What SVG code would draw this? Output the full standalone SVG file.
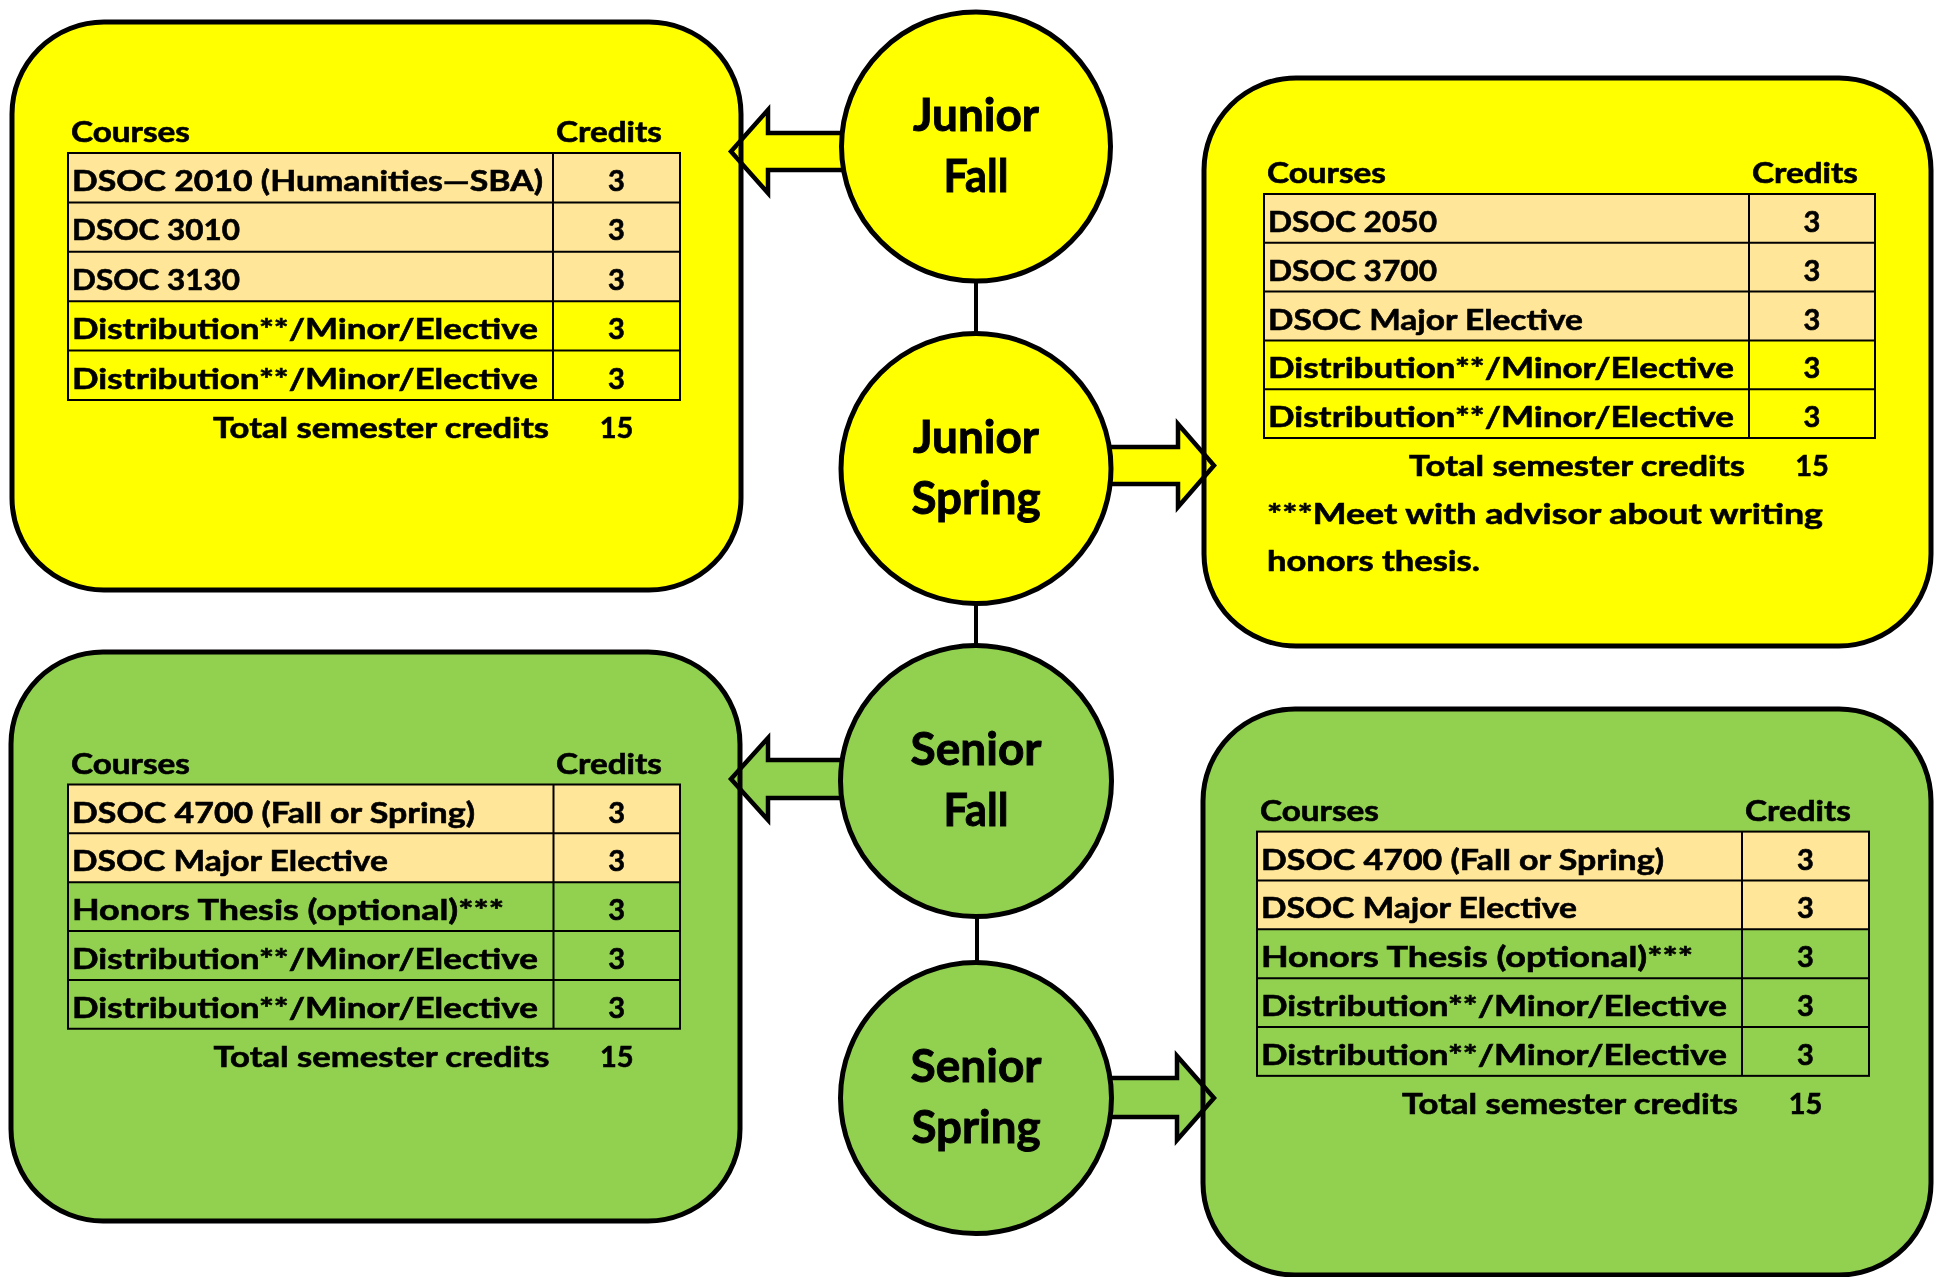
<svg xmlns="http://www.w3.org/2000/svg" width="1947" height="1277" viewBox="0 0 1947 1277">
<style>
text{font-family:Lato,"Open Sans","Liberation Sans",sans-serif;font-weight:700;fill:#000;stroke:#000;stroke-width:0.6px}
.t{font-size:29px}
.c{font-size:29px;text-anchor:middle}
.lab{font-size:45px;text-anchor:middle;stroke-width:0.9px}
.box{stroke:#000;stroke-width:5}
.yel{fill:#FFFF00}
.grn{fill:#92D050}
.org{fill:#FFE699}
.grid{fill:none;stroke:#000;stroke-width:2}
.node{stroke:#000;stroke-width:5}
.link{stroke:#000;stroke-width:4;fill:none}
.arr{stroke:#000;stroke-width:4.5;stroke-linejoin:miter;mix-blend-mode:darken}
</style>

<g id="box-junior-fall">
<rect class="box yel" x="12" y="22" width="729" height="568" rx="92" ry="92"/>
<rect class="org" x="68" y="153" width="612" height="148.2"/>
<rect class="grid" x="68" y="153" width="612" height="247"/>
<path class="grid" d="M553 153V400M68 202.4H680M68 251.8H680M68 301.2H680M68 350.6H680"/>
<text class="t" x="71" y="142" textLength="119" lengthAdjust="spacingAndGlyphs">Courses</text>
<text class="t" x="556" y="142" textLength="106" lengthAdjust="spacingAndGlyphs">Credits</text>
<text class="t" x="72" y="191" textLength="471" lengthAdjust="spacingAndGlyphs">DSOC 2010 (Humanities—SBA)</text>
<text class="t" x="72" y="240.4" textLength="168" lengthAdjust="spacingAndGlyphs">DSOC 3010</text>
<text class="t" x="72" y="289.8" textLength="168" lengthAdjust="spacingAndGlyphs">DSOC 3130</text>
<text class="t" x="72" y="339.2" textLength="466" lengthAdjust="spacingAndGlyphs">Distribution**/Minor/Elective</text>
<text class="t" x="72" y="388.6" textLength="466" lengthAdjust="spacingAndGlyphs">Distribution**/Minor/Elective</text>
<text class="c" x="616.5" y="191">3</text>
<text class="c" x="616.5" y="240.4">3</text>
<text class="c" x="616.5" y="289.8">3</text>
<text class="c" x="616.5" y="339.2">3</text>
<text class="c" x="616.5" y="388.6">3</text>
<text class="t" x="213" y="438" textLength="336" lengthAdjust="spacingAndGlyphs">Total semester credits</text>
<text class="c" x="616.5" y="438">15</text>
</g>

<g id="box-junior-spring">
<rect class="box yel" x="1204" y="78" width="727" height="568" rx="92" ry="92"/>
<rect class="org" x="1264" y="194" width="611" height="146.4"/>
<rect class="grid" x="1264" y="194" width="611" height="244"/>
<path class="grid" d="M1749 194V438M1264 242.8H1875M1264 291.6H1875M1264 340.4H1875M1264 389.2H1875"/>
<text class="t" x="1267" y="183" textLength="119" lengthAdjust="spacingAndGlyphs">Courses</text>
<text class="t" x="1752" y="183" textLength="106" lengthAdjust="spacingAndGlyphs">Credits</text>
<text class="t" x="1268" y="232" textLength="169" lengthAdjust="spacingAndGlyphs">DSOC 2050</text>
<text class="t" x="1268" y="280.8" textLength="169" lengthAdjust="spacingAndGlyphs">DSOC 3700</text>
<text class="t" x="1268" y="329.6" textLength="315" lengthAdjust="spacingAndGlyphs">DSOC Major Elective</text>
<text class="t" x="1268" y="378.4" textLength="466" lengthAdjust="spacingAndGlyphs">Distribution**/Minor/Elective</text>
<text class="t" x="1268" y="427.2" textLength="466" lengthAdjust="spacingAndGlyphs">Distribution**/Minor/Elective</text>
<text class="c" x="1812" y="232">3</text>
<text class="c" x="1812" y="280.8">3</text>
<text class="c" x="1812" y="329.6">3</text>
<text class="c" x="1812" y="378.4">3</text>
<text class="c" x="1812" y="427.2">3</text>
<text class="t" x="1409" y="476" textLength="336" lengthAdjust="spacingAndGlyphs">Total semester credits</text>
<text class="c" x="1812" y="476">15</text>
<text class="t" x="1267" y="524" textLength="556" lengthAdjust="spacingAndGlyphs">***Meet with advisor about writing</text>
<text class="t" x="1267" y="571" textLength="213" lengthAdjust="spacingAndGlyphs">honors thesis.</text>
</g>

<g id="box-senior-fall">
<rect class="box grn" x="11" y="652" width="729" height="569" rx="92" ry="92"/>
<rect class="org" x="68" y="784.5" width="612" height="97.7"/>
<rect class="grid" x="68" y="784.5" width="612" height="244.25"/>
<path class="grid" d="M553.5 784.5V1028.75M68 833.35H680M68 882.2H680M68 931.05H680M68 979.9H680"/>
<text class="t" x="71" y="773.5" textLength="119" lengthAdjust="spacingAndGlyphs">Courses</text>
<text class="t" x="556" y="773.5" textLength="106" lengthAdjust="spacingAndGlyphs">Credits</text>
<text class="t" x="72" y="822.5" textLength="403" lengthAdjust="spacingAndGlyphs">DSOC 4700 (Fall or Spring)</text>
<text class="t" x="72" y="871.35" textLength="316" lengthAdjust="spacingAndGlyphs">DSOC Major Elective</text>
<text class="t" x="72" y="920.2" textLength="432" lengthAdjust="spacingAndGlyphs">Honors Thesis (optional)***</text>
<text class="t" x="72" y="969.05" textLength="466" lengthAdjust="spacingAndGlyphs">Distribution**/Minor/Elective</text>
<text class="t" x="72" y="1017.9" textLength="466" lengthAdjust="spacingAndGlyphs">Distribution**/Minor/Elective</text>
<text class="c" x="616.75" y="822.5">3</text>
<text class="c" x="616.75" y="871.35">3</text>
<text class="c" x="616.75" y="920.2">3</text>
<text class="c" x="616.75" y="969.05">3</text>
<text class="c" x="616.75" y="1017.9">3</text>
<text class="t" x="213.5" y="1066.75" textLength="336" lengthAdjust="spacingAndGlyphs">Total semester credits</text>
<text class="c" x="616.75" y="1066.75">15</text>
</g>

<g id="box-senior-spring">
<rect class="box grn" x="1203" y="709" width="728" height="566" rx="92" ry="92"/>
<rect class="org" x="1257" y="831.6" width="612" height="97.7"/>
<rect class="grid" x="1257" y="831.6" width="612" height="244.25"/>
<path class="grid" d="M1742 831.6V1075.85M1257 880.45H1869M1257 929.3H1869M1257 978.15H1869M1257 1027H1869"/>
<text class="t" x="1260" y="820.6" textLength="119" lengthAdjust="spacingAndGlyphs">Courses</text>
<text class="t" x="1745" y="820.6" textLength="106" lengthAdjust="spacingAndGlyphs">Credits</text>
<text class="t" x="1261" y="869.6" textLength="403" lengthAdjust="spacingAndGlyphs">DSOC 4700 (Fall or Spring)</text>
<text class="t" x="1261" y="918.45" textLength="316" lengthAdjust="spacingAndGlyphs">DSOC Major Elective</text>
<text class="t" x="1261" y="967.3" textLength="432" lengthAdjust="spacingAndGlyphs">Honors Thesis (optional)***</text>
<text class="t" x="1261" y="1016.15" textLength="466" lengthAdjust="spacingAndGlyphs">Distribution**/Minor/Elective</text>
<text class="t" x="1261" y="1065" textLength="466" lengthAdjust="spacingAndGlyphs">Distribution**/Minor/Elective</text>
<text class="c" x="1805.5" y="869.6">3</text>
<text class="c" x="1805.5" y="918.45">3</text>
<text class="c" x="1805.5" y="967.3">3</text>
<text class="c" x="1805.5" y="1016.15">3</text>
<text class="c" x="1805.5" y="1065">3</text>
<text class="t" x="1402" y="1113.85" textLength="336" lengthAdjust="spacingAndGlyphs">Total semester credits</text>
<text class="c" x="1805.5" y="1113.85">15</text>
</g>

<g id="connectors">
<line class="link" x1="976" y1="280" x2="976" y2="334"/>
<line class="link" x1="976" y1="603" x2="976" y2="646"/>
<line class="link" x1="977" y1="916" x2="977" y2="963"/>
<polygon class="arr yel" points="860,133 768,133 768,110 731,151.5 768,193 768,170 860,170"/>
<polygon class="arr yel" points="1090,447 1178,447 1178,424 1214,465.5 1178,507 1178,484 1090,484"/>
<polygon class="arr grn" points="860,760 768,760 768,738 731,779 768,820 768,798 860,798"/>
<polygon class="arr grn" points="1090,1078 1177,1078 1177,1056 1214,1098 1177,1140 1177,1117 1090,1117"/>
</g>

<g id="junior-fall">
<circle class="node yel" cx="976" cy="146.5" r="134.5"/>
<text class="lab" x="976" y="130.5" textLength="126" lengthAdjust="spacingAndGlyphs">Junior</text>
<text class="lab" x="976" y="191.5" textLength="65" lengthAdjust="spacingAndGlyphs">Fall</text>
</g>
<g id="junior-spring">
<circle class="node yel" cx="976" cy="468.5" r="135"/>
<text class="lab" x="976" y="452.5" textLength="126" lengthAdjust="spacingAndGlyphs">Junior</text>
<text class="lab" x="976" y="513.5" textLength="129" lengthAdjust="spacingAndGlyphs">Spring</text>
</g>
<g id="senior-fall">
<circle class="node grn" cx="976" cy="781" r="135.5"/>
<text class="lab" x="976" y="765" textLength="131" lengthAdjust="spacingAndGlyphs">Senior</text>
<text class="lab" x="976" y="826" textLength="65" lengthAdjust="spacingAndGlyphs">Fall</text>
</g>
<g id="senior-spring">
<circle class="node grn" cx="976" cy="1098" r="135.5"/>
<text class="lab" x="976" y="1082" textLength="131" lengthAdjust="spacingAndGlyphs">Senior</text>
<text class="lab" x="976" y="1143" textLength="129" lengthAdjust="spacingAndGlyphs">Spring</text>
</g>
</svg>
